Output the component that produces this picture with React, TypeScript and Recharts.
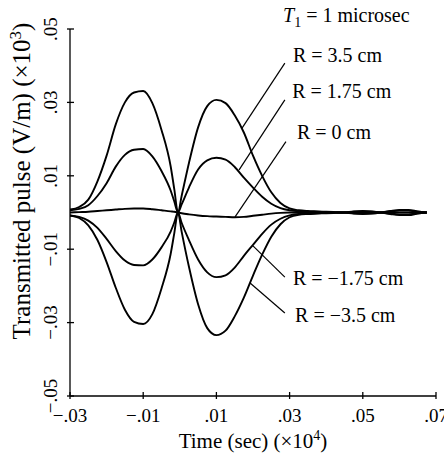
import React from 'react';
import { LineChart, Line, XAxis, YAxis, ReferenceLine, ReferenceDot, Label } from 'recharts';

// Time (sec) (x10^4)
const time = [
  -0.03, -0.0275, -0.025, -0.0225, -0.02, -0.0175, -0.015, -0.0125, -0.01, -0.0075, -0.005, -0.0025,
  -0.0015, -0.0005, 0.0005,
  0.0025, 0.005, 0.0075, 0.01, 0.0125, 0.015, 0.0175, 0.02, 0.0225, 0.025, 0.0275, 0.03, 0.0325, 0.035,
  0.0375, 0.04, 0.0425, 0.045, 0.0475, 0.05, 0.0525, 0.055, 0.0575, 0.06, 0.0625, 0.065, 0.0675,
];

// Transmitted pulse (V/m) (x10^3)
const rPos35 = [
  0.0008, 0.0015, 0.0035, 0.0085, 0.0155, 0.024, 0.03, 0.0327, 0.0331, 0.0298, 0.0225, 0.0126,
  0.0063, 0, 0.0045,
  0.0135, 0.0232, 0.029, 0.0307, 0.0298, 0.0265, 0.0218, 0.0155, 0.01, 0.0055, 0.0026, 0.0011, 0.0006, 0.0004,
  0.0003, 0.0002, 0.0001, 0, -0.0003, -0.0004, -0.0003, 0, 0.0004, 0.0007, 0.0007, 0.0003, 0,
];
const rPos175 = [
  0.0006, 0.001, 0.002, 0.0045, 0.008, 0.0125, 0.0157, 0.0171, 0.0173, 0.0153, 0.0113, 0.006,
  0.003, 0, 0.0022,
  0.0068, 0.0117, 0.0142, 0.0149, 0.0144, 0.0124, 0.0095, 0.0068, 0.0043, 0.0024, 0.0012, 0.0006, 0.0003, 0.0002,
  0.0002, 0.0001, 0, 0, -0.0002, -0.0003, -0.0002, 0, 0.0003, 0.0005, 0.0005, 0.0002, 0,
];
const rZero = [
  0, 0.0001, 0.0002, 0.0004, 0.0006, 0.0008, 0.001, 0.0011, 0.0011, 0.0009, 0.0006, 0.0003,
  0.0002, 0, -0.0002,
  -0.0005, -0.0008, -0.001, -0.0011, -0.0012, -0.0013, -0.0012, -0.0009, -0.0006, -0.0003, -0.0001, 0, 0, 0,
  0, 0, 0, 0, 0, 0, 0, 0, 0, 0, 0, 0, 0,
];
const rNeg175 = [
  -0.0008, -0.0012, -0.0022, -0.0042, -0.0072, -0.0105, -0.0131, -0.0143, -0.0144, -0.0128, -0.0095, -0.0052,
  -0.0027, 0, -0.0028,
  -0.0075, -0.0128, -0.0163, -0.0176, -0.0171, -0.015, -0.0118, -0.0088, -0.0058, -0.0033, -0.0017, -0.0008, -0.0004, -0.0003,
  -0.0002, -0.0001, 0, 0, 0.0002, 0.0003, 0.0002, 0, -0.0003, -0.0005, -0.0005, -0.0002, 0,
];
const rNeg35 = [
  -0.0008, -0.0015, -0.0035, -0.0075, -0.0135, -0.0205, -0.0265, -0.0298, -0.0304, -0.0277, -0.0207, -0.0113,
  -0.0056, 0, -0.0052,
  -0.0148, -0.025, -0.0315, -0.0334, -0.0322, -0.0283, -0.0232, -0.0172, -0.0115, -0.0066, -0.0032, -0.0013, -0.0006, -0.0004,
  -0.0003, -0.0002, -0.0001, 0, 0.0003, 0.0004, 0.0003, 0, -0.0004, -0.0007, -0.0007, -0.0003, 0,
];

const xTicks = [-0.03, -0.01, 0.01, 0.03, 0.05, 0.07];
const xTickLabels = ['\u2212.03', '\u2212.01', '.01', '.03', '.05', '.07'];
const yTicks = [-0.05, -0.03, -0.01, 0.01, 0.03, 0.05];
const yTickLabels = ['\u2212.05', '\u2212.03', '\u2212.01', '.01', '.03', '.05'];

const seriesKeys = ['p35', 'p175', 'z', 'n175', 'n35'];
const seriesLabels = ['R = 3.5 cm', 'R = 1.75 cm', 'R = 0 cm', 'R = \u22121.75 cm', 'R = \u22123.5 cm'];
// label anchor (time, value) and leader line endpoints (time, value)
const labelAnchors = [
  [0.0309, 0.041],
  [0.0307, 0.0312],
  [0.032, 0.02],
  [0.0309, -0.0198],
  [0.0315, -0.0298],
];
const leaderStarts = [
  [0.0287, 0.0407],
  [0.0287, 0.0307],
  [0.029, 0.0193],
  [0.0287, -0.0176],
  [0.0287, -0.0274],
];
const leaderEnds = [
  [0.017, 0.023],
  [0.0162, 0.0116],
  [0.0151, -0.0012],
  [0.02, -0.0091],
  [0.0192, -0.0192],
];
const noteAnchor = [0.0282, 0.0519];

const data = time.map((t, i) => ({
  t,
  p35: rPos35[i],
  p175: rPos175[i],
  z: rZero[i],
  n175: rNeg175[i],
  n35: rNeg35[i],
}));

const FONT = '"Liberation Serif", "Times New Roman", serif';

const findIdx = (arr: number[], v: number) => arr.findIndex((a) => Math.abs(a - v) < 1e-9);

const XTick = (props: any) => {
  const { x, y, payload } = props;
  const i = findIdx(xTicks, payload.value);
  return (
    <g>
      <line x1={x} y1={y - 4} x2={x} y2={y + 3} stroke="#000" strokeWidth={1.3} />
      <text x={x} y={y + 26} textAnchor="middle" fontFamily={FONT} fontSize={19} fill="#000">
        {xTickLabels[i]}
      </text>
    </g>
  );
};

const YTick = (props: any) => {
  const { x, y, payload } = props;
  const i = findIdx(yTicks, payload.value);
  const tx = x - 13;
  return (
    <g>
      <line x1={x - 3} y1={y} x2={x + 4} y2={y} stroke="#000" strokeWidth={1.3} />
      <text
        x={tx}
        y={y}
        transform={`rotate(-90, ${tx}, ${y})`}
        textAnchor="middle"
        fontFamily={FONT}
        fontSize={19}
        fill="#000"
      >
        {yTickLabels[i]}
      </text>
    </g>
  );
};

const XTitle = (props: any) => {
  const vb = props.viewBox || { x: 70, y: 396, width: 366, height: 59 };
  const cx = vb.x + vb.width / 2;
  const y = vb.y + 52;
  return (
    <text x={cx} y={y} textAnchor="middle" fontFamily={FONT} fontSize={21} fill="#000">
      Time (sec) (×10
      <tspan dy={-8} fontSize={14}>4</tspan>
      <tspan dy={8}>)</tspan>
    </text>
  );
};

const YTitle = (props: any) => {
  const x = 30;
  const y = 181;
  return (
    <text
      x={x}
      y={y}
      transform={`rotate(-90, ${x}, ${y})`}
      textAnchor="middle"
      fontFamily={FONT}
      fontSize={25}
      fill="#000"
    >
      Transmitted pulse (V/m) (×10
      <tspan dy={-9} fontSize={17}>3</tspan>
      <tspan dy={9}>)</tspan>
    </text>
  );
};

const makeTextLabel = (txt: string) => (props: any) => {
  const vb = props.viewBox;
  const x = vb.x + (vb.width || 0) / 2;
  const y = vb.y + (vb.height || 0) / 2;
  return (
    <text x={x} y={y} fontFamily={FONT} fontSize={20} fill="#000">
      {txt}
    </text>
  );
};

const NoteLabel = (props: any) => {
  const vb = props.viewBox;
  const x = vb.x + (vb.width || 0) / 2;
  const y = vb.y + (vb.height || 0) / 2;
  return (
    <text x={x} y={y} fontFamily={FONT} fontSize={20} fill="#000">
      <tspan fontStyle="italic">T</tspan>
      <tspan dy={5} fontSize={14}>1</tspan>
      <tspan dy={-5}>{' = 1 microsec'}</tspan>
    </text>
  );
};

export default function App() {
  return (
    <div style={{ position: 'absolute', left: 0, top: 0, width: 444, height: 455, background: '#fff' }}>
      <LineChart width={444} height={455} data={data} margin={{ top: 29, right: 8, bottom: 0, left: 0 }}>
        <XAxis
          dataKey="t"
          type="number"
          domain={[-0.03, 0.07]}
          ticks={xTicks}
          allowDataOverflow
          height={59}
          tickSize={0}
          tickMargin={0}
          tickLine={false}
          axisLine={{ stroke: '#000', strokeWidth: 1.3 }}
          tick={<XTick />}
          interval={0}
        >
          <Label content={<XTitle />} />
        </XAxis>
        <YAxis
          type="number"
          domain={[-0.05, 0.05]}
          ticks={yTicks}
          allowDataOverflow
          width={70}
          tickSize={0}
          tickMargin={0}
          tickLine={false}
          axisLine={{ stroke: '#000', strokeWidth: 1.3 }}
          tick={<YTick />}
          interval={0}
        >
          <Label content={<YTitle />} />
        </YAxis>
        {seriesKeys.map((k) => (
          <Line
            key={k}
            dataKey={k}
            type="monotone"
            stroke="#000"
            strokeWidth={1.9}
            dot={false}
            activeDot={false}
            isAnimationActive={false}
          />
        ))}
        {seriesKeys.map((k, i) => (
          <ReferenceLine
            key={'l' + k}
            segment={[
              { x: leaderStarts[i][0], y: leaderStarts[i][1] },
              { x: leaderEnds[i][0], y: leaderEnds[i][1] },
            ]}
            stroke="#000"
            strokeWidth={1.2}
            ifOverflow="visible"
          />
        ))}
        {seriesKeys.map((k, i) => (
          <ReferenceDot
            key={'t' + k}
            x={labelAnchors[i][0]}
            y={labelAnchors[i][1]}
            r={1}
            fill="none"
            stroke="none"
            ifOverflow="visible"
            label={{ content: makeTextLabel(seriesLabels[i]) }}
          />
        ))}
        <ReferenceDot
          x={noteAnchor[0]}
          y={noteAnchor[1]}
          r={1}
          fill="none"
          stroke="none"
          ifOverflow="visible"
          label={{ content: NoteLabel }}
        />
      </LineChart>
    </div>
  );
}
